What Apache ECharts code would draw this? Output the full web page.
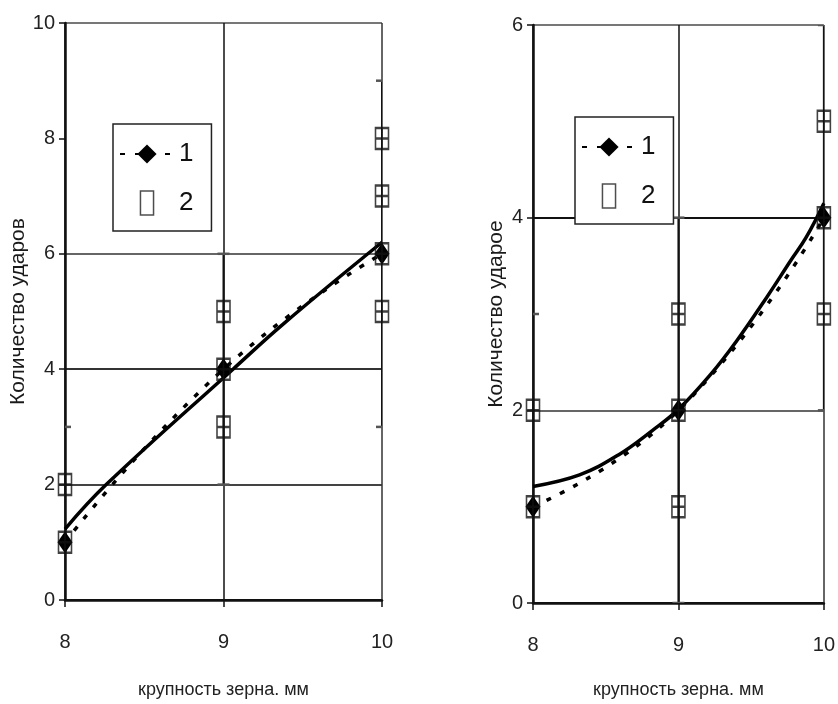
<!DOCTYPE html>
<html>
<head>
<meta charset="utf-8">
<script src="https://cdn.jsdelivr.net/npm/echarts@6/dist/echarts.min.js"></script>
<style>html,body{margin:0;padding:0;background:#fff;}#c{width:838px;height:704px;}</style>
</head>
<body>
<div id="c"></div>
<script>
// ---- data (left chart) ----
const L_mean = [[8, 1], [9, 4], [10, 6]];                       // series 1
const L_obs = [[8, 1], [8, 2], [9, 3], [9, 4], [9, 5], [10, 5], [10, 6], [10, 7], [10, 8]]; // series 2
const L_trend = [[8, 1.23], [8.26, 2.0], [9.06, 4.0], [9.38, 4.79], [10, 6.2]];
const L_errX = [8, 9, 10];
const L_errLo = [-1, 2, 3];
const L_errHi = [3, 6, 9];
const L_yTicks = [0, 2, 4, 6, 8, 10];
// ---- data (right chart) ----
const R_mean = [[8, 1], [9, 2], [10, 4]];
const R_obs = [[8, 1], [8, 2], [9, 1], [9, 2], [9, 3], [10, 3], [10, 4], [10, 5]];
const R_trend = [[8, 1.21], [8.32, 1.33], [8.59, 1.54], [8.82, 1.79], [9, 2.01], [9.22, 2.37], [9.4, 2.72], [9.61, 3.18], [9.77, 3.55], [9.88, 3.8], [10, 4.15]];
const R_errX = [8, 9, 10];
const R_errLo = [-1, 0, 2];
const R_errHi = [3, 4, 6];
const R_yTicks = [0, 2, 4, 6];
const xTicks = [8, 9, 10];
const yName = ['Количество ударов', 'Количество ударое'];
const xName = 'крупность зерна. мм';
const legendNames = ['1', '2'];

const NARROW = '"Liberation Sans", Arial, sans-serif';
const SANS = '"Liberation Sans", Arial, sans-serif';
const boxPath = 'path://M0,0H10V10H0Z M5,0V10 M0,5H10';
const legendBox = 'path://M0,0H6V11H0Z';

function errData(xs, lo, hi) { return xs.map((x, i) => [x, lo[i], hi[i]]); }
function errRender(params, api) {
  const x = api.value(0), lo = api.value(1), hi = api.value(2);
  const a = api.coord([x, lo]), b = api.coord([x, hi]);
  const hw = 6, st = { stroke: '#111', lineWidth: 2 };
  return { type: 'group', children: [
    { type: 'line', shape: { x1: a[0], y1: a[1], x2: b[0], y2: b[1] }, style: st },
    { type: 'line', shape: { x1: b[0] - hw, y1: b[1], x2: b[0] + hw, y2: b[1] }, style: { stroke: '#555', lineWidth: 2.5 } },
    { type: 'line', shape: { x1: a[0] - hw, y1: a[1], x2: a[0] + hw, y2: a[1] }, style: { stroke: '#555', lineWidth: 2.5 } }
  ]};
}

function xAxisCfg(gi, gap) {
  return {
    gridIndex: gi, type: 'value', min: xTicks[0], max: xTicks[xTicks.length - 1], interval: 1,
    name: xName, nameLocation: 'middle', nameGap: gap,
    nameTextStyle: { fontFamily: NARROW, fontSize: 18, color: '#222' },
    axisLine: { show: true, onZero: false, lineStyle: { color: '#111', width: 2.5 } },
    axisTick: { show: true, length: 7, lineStyle: { color: '#111', width: 1.5 } },
    axisLabel: { margin: 32, fontFamily: NARROW, fontSize: 20, color: '#222' },
    splitLine: { show: true, lineStyle: { color: ['#111', '#111', '#333'], width: 1.5 } }
  };
}
function yAxisCfg(gi, ticks, colors, gap, name) {
  return {
    gridIndex: gi, type: 'value', min: ticks[0], max: ticks[ticks.length - 1], interval: 2,
    name: name, nameLocation: 'middle', nameGap: gap, nameRotate: 90,
    nameTextStyle: { fontFamily: SANS, fontSize: 21, color: '#1a1a1a' },
    axisLine: { show: true, onZero: false, lineStyle: { color: '#111', width: 2.5 } },
    axisTick: { show: true, length: 6, lineStyle: { color: '#111', width: 1.5 } },
    axisLabel: { margin: 10, fontFamily: NARROW, fontSize: 20, color: '#222' },
    splitLine: { show: true, lineStyle: { color: colors, width: 2 } }
  };
}
function legendCfg(left, top) {
  return {
    left: left, top: top, orient: 'vertical',
    data: [
      { name: legendNames[0] },
      { name: legendNames[1], icon: legendBox, itemStyle: { color: '#fff', borderColor: '#222', borderWidth: 1.5 } }
    ],
    itemWidth: 54, itemHeight: 24, itemGap: 23,
    padding: [17, 18, 15, 6],
    borderColor: '#222', borderWidth: 1.5, backgroundColor: '#fff',
    textStyle: { fontFamily: NARROW, fontSize: 26, color: '#111' },
    selectedMode: false
  };
}
function seriesFor(gi, mean, obs, trend, err) {
  return [
    { type: 'custom', xAxisIndex: gi, yAxisIndex: gi, renderItem: errRender, data: err, clip: true, z: 2, silent: true },
    { name: '1', type: 'line', xAxisIndex: gi, yAxisIndex: gi, data: mean, smooth: 0.5,
      lineStyle: { color: '#000', width: 3.5, type: [5, 10] },
      symbol: 'diamond', symbolSize: [15, 22], itemStyle: { color: '#000' }, z: 4 },
    { name: 'trend' + gi, type: 'line', xAxisIndex: gi, yAxisIndex: gi, data: trend, smooth: 0.4,
      showSymbol: false, lineStyle: { color: '#000', width: 3.5 }, z: 3 },
    { name: '2', type: 'scatter', xAxisIndex: gi, yAxisIndex: gi, data: obs,
      symbol: boxPath, symbolSize: [13, 21],
      itemStyle: { color: 'rgba(255,255,255,0)', borderColor: '#111', borderWidth: 2 }, z: 5 }
  ];
}

const chart = echarts.init(document.getElementById('c'), null, { renderer: 'canvas' });
chart.setOption({
  animation: false,
  backgroundColor: '#fff',
  grid: [
    { left: 65, right: 456, top: 23, bottom: 101 },
    { left: 533, right: 10, top: 25, bottom: 98 }
  ],
  legend: [legendCfg(113, 124), legendCfg(575, 117)],
  xAxis: [xAxisCfg(0, 81), xAxisCfg(1, 78)],
  yAxis: [
    yAxisCfg(0, L_yTicks, ['#111', '#444', '#333', '#666', 'rgba(0,0,0,0)', '#777'], 34, yName[0]),
    yAxisCfg(1, R_yTicks, ['#111', '#666', '#111', '#777'], 26, yName[1])
  ],
  series: [
    ...seriesFor(0, L_mean, L_obs, L_trend, errData(L_errX, L_errLo, L_errHi)),
    ...seriesFor(1, R_mean, R_obs, R_trend, errData(R_errX, R_errLo, R_errHi))
  ]
});
</script>
</body>
</html>
